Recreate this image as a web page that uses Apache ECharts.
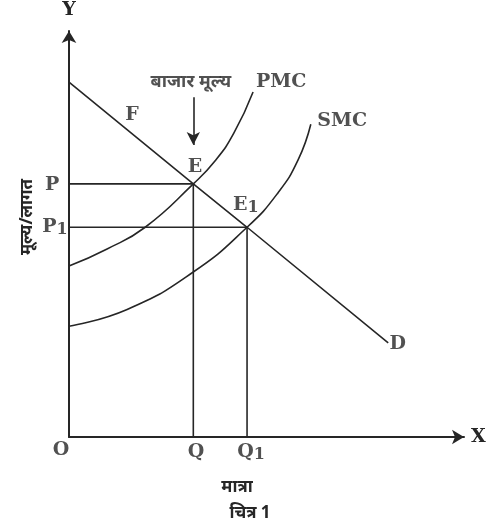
<!DOCTYPE html>
<html>
<head>
<meta charset="utf-8">
<script src="https://cdn.jsdelivr.net/npm/echarts@6/dist/echarts.min.js"></script>
<style>
html,body{margin:0;padding:0;background:#fff;}
#c{width:495px;height:528px;}
</style>
</head>
<body>
<div id="c"></div>
<script>
// ---- data (in chart units) ----
const Q = 31.0, Q1 = 44.4;          // quantities
const P = 61.9, P1 = 51.3;          // prices
const demandX = [0, Q, Q1, 79.6];
const demandY = [86.8, P, P1, 23.0];
const pmcX = [0, 9.5, 19.0, Q, 36.4, 41.1, 45.9];
const pmcY = [41.8, 46.0, 51.3, P, 67.5, 74.3, 84.4];
const smcX = [0, 14.5, 30.9, Q1, 52.1, 57.1, 60.3];
const smcY = [27.1, 31.2, 40.3, P1, 59.7, 67.7, 76.5];
const marketArrowY = [83.1, 71.4];   // arrow above E at x = Q

// annotation texts: [main, subscript]
const labelMain = ['O', 'Q', 'Q', 'P', 'P', 'E', 'E', 'F', 'D', 'PMC', 'SMC'];
const labelSub  = ['',  '',  '1', '',  '1', '',  '1', '',  '',  '',    ''];
const labelX = [-2.0, 31.7, 45.4, -4.2, -3.5, 31.4, 44.1, 15.7, 82.0, 52.9, 68.1];
const labelY = [-3.2, -3.7, -3.7, 61.6, 51.3, 66.0, 56.7, 78.7, 22.7, 86.8, 77.3];
const hindiMarket = 'बाजार मूल्य';
const hindiMarketPos = [30.4, 86.8];

const INK = '#262626';
const serif = '"DejaVu Serif", serif';
const deva = '"Noto Sans", "Noto Sans Devanagari", sans-serif';

const zip = (xs, ys) => xs.map((x, i) => [x, ys[i]]);

const chart = echarts.init(document.getElementById('c'), null, {renderer: 'canvas'});

const axisCommon = {
  type: 'value',
  min: 0,
  splitLine: {show: false},
  axisTick: {show: false},
  axisLabel: {show: false},
  axisLine: {
    show: true,
    onZero: false,
    symbol: ['none', 'arrow'],
    symbolSize: [11, 12],
    lineStyle: {color: INK, width: 2}
  },
  nameTextStyle: {color: INK, fontFamily: serif, fontWeight: 'bold', fontSize: 19}
};

const lineStyle = {color: INK, width: 1.6};

chart.setOption({
  animation: false,
  backgroundColor: '#fff',
  grid: {left: 69, top: 31, width: 395, height: 406},
  xAxis: Object.assign({}, axisCommon, {max: 98.5, name: 'X', nameLocation: 'end', nameGap: 7}),
  yAxis: Object.assign({}, axisCommon, {max: 99.3, name: 'Y', nameLocation: 'end', nameGap: 11}),
  series: [
    {
      type: 'line', name: 'D', data: zip(demandX, demandY),
      symbol: 'none', lineStyle: lineStyle
    },
    {
      type: 'line', name: 'PMC', data: zip(pmcX, pmcY),
      symbol: 'none', smooth: 0.5, lineStyle: lineStyle
    },
    {
      type: 'line', name: 'SMC', data: zip(smcX, smcY),
      symbol: 'none', smooth: 0.5, lineStyle: lineStyle
    },
    {
      type: 'line', name: 'guideE', data: [[0, P], [Q, P], [Q, 0]],
      symbol: 'none', lineStyle: lineStyle
    },
    {
      type: 'line', name: 'guideE1', data: [[0, P1], [Q1, P1], [Q1, 0]],
      symbol: 'none', lineStyle: lineStyle
    },
    {
      type: 'scatter', name: 'arrow', data: [],
      markLine: {
        silent: true,
        symbol: ['none', 'arrow'],
        symbolSize: [10, 13],
        label: {show: false},
        lineStyle: {color: INK, width: 1.6, type: 'solid'},
        data: [[{coord: [Q, marketArrowY[0]]}, {coord: [Q, marketArrowY[1]]}]]
      }
    },
    {
      type: 'scatter', name: 'labels', clip: false, symbolSize: 0,
      data: labelMain.map((t, i) => ({value: [labelX[i], labelY[i]], name: t, sub: labelSub[i]})),
      label: {
        show: true, position: 'inside',
        formatter: p => '{b|' + p.data.name + '}' + (p.data.sub ? '{s|' + p.data.sub + '}' : ''),
        rich: {
          b: {color: INK, fontFamily: serif, fontWeight: 'bold', fontSize: 19, lineHeight: 22},
          s: {color: INK, fontFamily: serif, fontWeight: 'bold', fontSize: 16, lineHeight: 14, verticalAlign: 'bottom'}
        }
      }
    },
    {
      type: 'scatter', name: 'market', clip: false, symbolSize: 0,
      data: [{value: hindiMarketPos, name: hindiMarket}],
      label: {
        show: true, position: 'inside', formatter: '{b}',
        color: INK, fontFamily: deva, fontWeight: 'bold', fontSize: 18
      }
    }
  ],
  graphic: [
    {type: 'text', x: 237, y: 487, style: {text: 'मात्रा', fill: INK, font: 'bold 17px "Noto Sans", sans-serif', align: 'center', verticalAlign: 'middle'}},
    {type: 'text', x: 250, y: 513, style: {text: 'चित्र 1', fill: INK, font: 'bold 17px "Noto Sans", sans-serif', align: 'center', verticalAlign: 'middle'}},
    {type: 'text', x: 27, y: 217, rotation: Math.PI / 2, style: {text: 'मूल्य/लागत', fill: INK, font: 'bold 17px "Noto Sans", sans-serif', align: 'center', verticalAlign: 'middle'}}
  ]
});
</script>
</body>
</html>
